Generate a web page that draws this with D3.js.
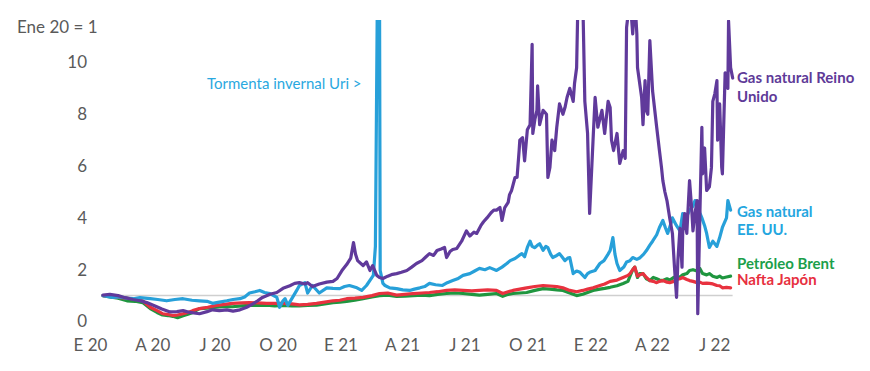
<!DOCTYPE html>
<html>
<head>
<meta charset="utf-8">
<script src="https://cdn.jsdelivr.net/npm/d3@7"></script>
<style>
  html, body { margin: 0; padding: 0; background: #fff; }
  svg { display: block; font-family: Lato, "Open Sans", sans-serif; }
</style>
</head>
<body>
<svg id="chart" width="870" height="371"></svg>
<script>
// ---------- DATA ----------
const xTickDates  = ["2020-01-01","2020-04-01","2020-07-01","2020-10-01","2021-01-01","2021-04-01","2021-07-01","2021-10-01","2022-01-01","2022-04-01","2022-07-01"];
const xTickLabels = ["E 20","A 20","J 20","O 20","E 21","A 21","J 21","O 21","E 22","A 22","J 22"];
const yTicks = [0, 2, 4, 6, 8, 10];

const ukGasDates = ["2020-01-20","2020-01-30","2020-02-11","2020-02-21","2020-03-04","2020-03-14","2020-03-24","2020-04-05","2020-04-15","2020-04-27","2020-05-07","2020-05-16","2020-05-26","2020-06-09","2020-06-20","2020-06-28","2020-07-08","2020-07-19","2020-07-28","2020-08-07","2020-08-17","2020-08-26","2020-09-02","2020-09-09","2020-09-20","2020-09-30","2020-10-09","2020-10-19","2020-10-26","2020-11-02","2020-11-10","2020-11-14","2020-11-21","2020-12-01","2020-12-12","2020-12-21","2020-12-27","2021-01-04","2021-01-10","2021-01-16","2021-01-20","2021-01-23","2021-01-26","2021-02-03","2021-02-08","2021-02-13","2021-02-17","2021-02-23","2021-02-27","2021-03-04","2021-03-11","2021-03-18","2021-03-24","2021-03-31","2021-04-08","2021-04-15","2021-04-22","2021-04-30","2021-05-06","2021-05-11","2021-05-17","2021-05-22","2021-05-28","2021-06-02","2021-06-05","2021-06-10","2021-06-14","2021-06-20","2021-06-27","2021-07-04","2021-07-09","2021-07-15","2021-07-19","2021-07-25","2021-07-29","2021-08-03","2021-08-09","2021-08-13","2021-08-17","2021-08-22","2021-08-25","2021-08-29","2021-09-03","2021-09-05","2021-09-08","2021-09-13","2021-09-16","2021-09-19","2021-09-20","2021-09-24","2021-09-27","2021-10-01","2021-10-05","2021-10-08","2021-10-09","2021-10-12","2021-10-15","2021-10-16","2021-10-19","2021-10-24","2021-10-29","2021-10-31","2021-11-03","2021-11-06","2021-11-10","2021-11-13","2021-11-17","2021-11-22","2021-11-25","2021-11-28","2021-12-02","2021-12-07","2021-12-09","2021-12-12","2021-12-14","2021-12-21","2021-12-24","2021-12-28","2021-12-31","2022-01-05","2022-01-08","2022-01-12","2022-01-18","2022-01-22","2022-01-27","2022-01-30","2022-02-01","2022-02-04","2022-02-09","2022-02-13","2022-02-18","2022-02-21","2022-02-23","2022-02-28","2022-03-04","2022-03-07","2022-03-10","2022-03-11","2022-03-17","2022-03-19","2022-03-22","2022-03-24","2022-03-26","2022-03-29","2022-04-02","2022-04-08","2022-04-12","2022-04-15","2022-04-17","2022-04-20","2022-04-23","2022-04-27","2022-05-01","2022-05-04","2022-05-07","2022-05-09","2022-05-12","2022-05-15","2022-05-16","2022-05-19","2022-05-22","2022-05-26","2022-05-29","2022-05-31","2022-06-03","2022-06-06","2022-06-07","2022-06-10","2022-06-13","2022-06-14","2022-06-17","2022-06-20","2022-06-24","2022-06-27","2022-06-29","2022-07-02","2022-07-05","2022-07-06","2022-07-09","2022-07-12","2022-07-13","2022-07-17","2022-07-19","2022-07-21","2022-07-22","2022-07-25","2022-07-28"];
const ukGasValues = [1.02,1.05,1.0,0.92,0.85,0.8,0.73,0.6,0.48,0.37,0.38,0.42,0.35,0.3,0.38,0.45,0.42,0.45,0.4,0.45,0.55,0.68,0.8,0.93,1.05,1.12,1.28,1.38,1.47,1.5,1.45,1.5,1.35,1.45,1.52,1.55,1.66,2.0,2.2,2.45,3.05,2.6,2.35,2.16,2.3,1.97,2.16,1.78,1.7,1.66,1.75,1.82,1.85,1.9,1.97,2.1,2.24,2.35,2.5,2.62,2.55,2.74,2.8,2.86,2.47,2.7,2.78,2.82,3.1,3.5,3.3,3.45,3.4,3.7,3.85,4.0,4.2,4.3,4.3,4.4,3.9,4.4,4.6,4.9,5.06,5.56,5.56,6.6,7.0,7.1,6.2,7.4,7.6,10.7,7.26,7.8,8.15,9.1,7.6,8.15,8.0,5.56,5.95,7.0,6.6,7.5,8.4,8.0,8.26,8.65,9.0,8.5,9.2,9.8,12.5,12.5,8.5,7.26,4.17,7.0,8.65,7.5,8.15,7.26,8.5,8.26,7.0,6.6,7.26,6.1,6.6,6.3,11.35,12.5,11.1,12.5,11.1,9.8,8.65,7.6,9.3,8.15,8.0,10.85,8.9,7.5,6.6,5.95,5.44,5.0,4.67,4.0,3.4,2.1,0.93,2.36,3.6,2.1,3.4,4.17,3.4,5.44,4.4,3.5,4.17,4.67,0.3,4.0,7.5,5.7,6.7,5.06,5.2,5.95,8.5,8.8,9.3,7.0,8.4,5.95,5.7,9.6,9.3,9.0,11.6,9.8,9.4];

const usGasDates = ["2020-01-20","2020-02-03","2020-02-13","2020-02-24","2020-03-04","2020-03-14","2020-03-29","2020-04-09","2020-04-22","2020-05-04","2020-05-16","2020-05-29","2020-06-09","2020-06-20","2020-06-28","2020-07-08","2020-07-19","2020-07-28","2020-08-07","2020-08-14","2020-08-21","2020-08-29","2020-09-05","2020-09-12","2020-09-20","2020-09-30","2020-10-04","2020-10-09","2020-10-12","2020-10-16","2020-10-23","2020-10-29","2020-11-02","2020-11-10","2020-11-14","2020-11-21","2020-12-01","2020-12-12","2020-12-21","2020-12-31","2021-01-07","2021-01-14","2021-01-25","2021-02-01","2021-02-08","2021-02-16","2021-02-18","2021-02-21","2021-02-24","2021-02-27","2021-02-28","2021-03-04","2021-03-07","2021-03-14","2021-03-24","2021-04-02","2021-04-12","2021-04-19","2021-04-27","2021-05-04","2021-05-11","2021-05-20","2021-05-30","2021-06-06","2021-06-14","2021-06-21","2021-06-29","2021-07-09","2021-07-16","2021-07-23","2021-07-31","2021-08-07","2021-08-17","2021-08-25","2021-09-01","2021-09-06","2021-09-13","2021-09-19","2021-09-23","2021-09-27","2021-10-01","2021-10-05","2021-10-08","2021-10-12","2021-10-16","2021-10-19","2021-10-24","2021-10-28","2021-10-31","2021-11-04","2021-11-07","2021-11-13","2021-11-17","2021-11-22","2021-11-25","2021-11-29","2021-12-02","2021-12-07","2021-12-12","2021-12-17","2021-12-24","2021-12-28","2021-12-31","2022-01-08","2022-01-15","2022-01-21","2022-01-27","2022-01-30","2022-02-03","2022-02-06","2022-02-09","2022-02-13","2022-02-19","2022-02-23","2022-02-28","2022-03-04","2022-03-10","2022-03-14","2022-03-20","2022-03-24","2022-03-29","2022-04-02","2022-04-08","2022-04-12","2022-04-17","2022-04-21","2022-04-24","2022-04-29","2022-05-01","2022-05-07","2022-05-12","2022-05-16","2022-05-21","2022-05-26","2022-05-31","2022-06-03","2022-06-07","2022-06-10","2022-06-13","2022-06-17","2022-06-20","2022-06-24","2022-06-29","2022-07-05","2022-07-09","2022-07-13","2022-07-19","2022-07-21","2022-07-25"];
const usGasValues = [1.0,0.93,0.95,0.9,0.88,0.92,0.88,0.85,0.8,0.85,0.88,0.82,0.8,0.78,0.7,0.75,0.8,0.85,0.88,0.95,1.1,1.15,1.2,1.12,1.08,0.93,0.55,0.8,0.88,0.62,0.93,1.2,1.39,1.5,1.1,1.39,1.1,1.3,1.28,1.27,1.35,1.39,1.3,1.2,1.39,1.7,1.78,2.9,13,13,1.97,1.47,1.39,1.3,1.27,1.22,1.2,1.25,1.3,1.35,1.47,1.42,1.39,1.5,1.58,1.65,1.78,1.85,1.95,2.05,2.0,2.08,1.97,2.1,2.24,2.35,2.43,2.55,2.62,2.5,2.86,3.1,2.9,2.85,2.95,3.0,2.75,2.9,2.85,2.6,2.47,2.55,2.62,2.45,2.35,2.45,2.47,1.85,1.95,1.9,1.7,1.85,1.9,1.97,2.24,2.35,2.6,2.74,3.24,2.6,2.24,1.97,2.1,2.3,2.35,2.47,2.4,2.45,2.6,2.74,2.95,3.1,3.35,3.63,3.9,3.6,3.4,3.8,4.0,3.7,3.5,4.17,4.0,4.3,4.45,4.67,4.5,4.2,4.0,3.7,3.4,2.86,3.1,2.9,3.24,3.63,4.0,4.67,4.3];

const oilDates = ["2020-01-20","2020-01-30","2020-02-11","2020-02-24","2020-03-07","2020-03-18","2020-03-29","2020-04-08","2020-04-16","2020-04-24","2020-05-01","2020-05-08","2020-05-16","2020-05-23","2020-05-30","2020-06-09","2020-06-21","2020-07-04","2020-07-16","2020-07-27","2020-08-10","2020-08-21","2020-09-02","2020-09-15","2020-09-27","2020-10-09","2020-10-22","2020-11-02","2020-11-14","2020-11-27","2020-12-09","2020-12-21","2020-12-31","2021-01-10","2021-01-22","2021-02-03","2021-02-16","2021-02-27","2021-03-11","2021-03-24","2021-04-05","2021-04-17","2021-04-30","2021-05-11","2021-05-23","2021-06-05","2021-06-17","2021-06-29","2021-07-12","2021-07-23","2021-08-04","2021-08-17","2021-08-26","2021-09-03","2021-09-10","2021-09-20","2021-09-30","2021-10-12","2021-10-24","2021-11-03","2021-11-13","2021-11-22","2021-12-02","2021-12-12","2021-12-21","2021-12-28","2022-01-05","2022-01-15","2022-01-22","2022-01-30","2022-02-09","2022-02-18","2022-02-25","2022-02-28","2022-03-04","2022-03-07","2022-03-11","2022-03-14","2022-03-19","2022-03-24","2022-03-29","2022-04-03","2022-04-08","2022-04-12","2022-04-17","2022-04-23","2022-04-27","2022-05-03","2022-05-07","2022-05-12","2022-05-16","2022-05-22","2022-05-26","2022-05-31","2022-06-06","2022-06-10","2022-06-14","2022-06-20","2022-06-24","2022-06-29","2022-07-05","2022-07-09","2022-07-13","2022-07-19","2022-07-25"];
const brentValues = [1.0,0.95,0.9,0.8,0.78,0.73,0.5,0.35,0.25,0.23,0.2,0.15,0.22,0.28,0.35,0.5,0.52,0.55,0.58,0.57,0.6,0.62,0.62,0.63,0.6,0.62,0.6,0.6,0.62,0.63,0.68,0.73,0.75,0.78,0.82,0.88,0.95,1.0,1.02,0.97,0.98,1.0,1.02,1.0,1.05,1.08,1.1,1.08,1.05,1.02,1.05,1.08,0.97,1.05,1.08,1.1,1.12,1.2,1.27,1.25,1.22,1.2,1.1,1.0,1.05,1.12,1.2,1.25,1.28,1.32,1.38,1.47,1.55,1.75,2.0,2.1,1.7,1.85,1.85,1.65,1.58,1.7,1.65,1.6,1.58,1.65,1.6,1.7,1.65,1.72,1.8,1.85,1.97,2.0,1.95,2.05,1.85,1.8,1.85,1.75,1.7,1.75,1.68,1.72,1.75];
const naftaValues = [1.0,0.97,0.93,0.9,0.86,0.8,0.55,0.42,0.3,0.27,0.23,0.25,0.3,0.35,0.42,0.5,0.55,0.62,0.66,0.7,0.72,0.73,0.72,0.7,0.7,0.7,0.68,0.64,0.66,0.7,0.75,0.8,0.82,0.88,0.9,0.93,1.0,1.08,1.1,1.02,1.05,1.08,1.1,1.12,1.15,1.2,1.22,1.2,1.18,1.2,1.22,1.2,1.08,1.15,1.2,1.25,1.3,1.35,1.39,1.37,1.35,1.3,1.2,1.15,1.2,1.25,1.3,1.39,1.45,1.55,1.6,1.7,1.78,1.85,2.0,2.1,1.75,1.8,1.85,1.7,1.58,1.55,1.5,1.55,1.58,1.52,1.5,1.55,1.62,1.65,1.7,1.62,1.58,1.55,1.5,1.52,1.47,1.48,1.47,1.45,1.39,1.38,1.3,1.32,1.3];

const seriesNames = ["Gas natural Reino Unido", "Gas natural EE. UU.", "Petróleo Brent", "Nafta Japón"];

// ---------- CHART ----------
const parse = d3.utcParse("%Y-%m-%d");
const svg = d3.select("#chart");

const x = d3.scaleUtc()
  .domain([parse("2020-01-01"), parse("2022-08-01")])
  .range([90, 735.4]);
const y = d3.scaleLinear().domain([0, 10]).range([321.5, 62.5]);

const colors = {
  uk: "#603a9b",
  us: "#27a0d9",
  brent: "#1f963f",
  nafta: "#e8323f"
};

svg.append("defs").append("clipPath").attr("id", "plotclip")
  .append("rect").attr("x", 80).attr("y", 20).attr("width", 700).attr("height", 330);

// Y axis
const yAxis = svg.append("g")
  .attr("transform", "translate(87,0)")
  .call(d3.axisLeft(y).tickValues(yTicks).tickSize(0).tickPadding(0).tickFormat(d3.format("d")));
yAxis.select(".domain").remove();
yAxis.selectAll("text").attr("font-size", 17).attr("fill", "#5a5a5a").attr("font-family", "Lato, sans-serif");

// X axis
const xAxis = svg.append("g")
  .attr("transform", "translate(0,333)")
  .call(d3.axisBottom(x).tickValues(xTickDates.map(parse)).tickSize(0).tickPadding(6)
    .tickFormat((d, i) => xTickLabels[i]));
xAxis.select(".domain").remove();
xAxis.selectAll("text").attr("font-size", 17).attr("fill", "#5a5a5a").attr("font-family", "Lato, sans-serif");

// axis title
svg.append("text").attr("x", 17).attr("y", 33)
  .attr("font-size", 17).attr("fill", "#5a5a5a").text("Ene 20 = 1");

// reference line at 1
svg.append("line")
  .attr("x1", x(parse(oilDates[0]))).attr("x2", x(parse(oilDates[oilDates.length - 1])) + 2)
  .attr("y1", y(1)).attr("y2", y(1))
  .attr("stroke", "#cfcfcf").attr("stroke-width", 1.5);

const line = d3.line().x(d => x(d[0])).y(d => y(d[1]));
const zipS = (dates, vals) => dates.map((d, i) => [parse(d), vals[i]]);

const plot = svg.append("g").attr("clip-path", "url(#plotclip)");
const seriesList = [
  { data: zipS(oilDates, brentValues), color: colors.brent },
  { data: zipS(oilDates, naftaValues), color: colors.nafta },
  { data: zipS(usGasDates, usGasValues), color: colors.us },
  { data: zipS(ukGasDates, ukGasValues), color: colors.uk }
];
seriesList.forEach(s => {
  plot.append("path").datum(s.data)
    .attr("d", line)
    .attr("fill", "none")
    .attr("stroke", s.color)
    .attr("stroke-width", 3.2)
    .attr("stroke-linejoin", "round")
    .attr("stroke-linecap", "round");
});

// series labels
const lab = (txt, yy, col) => svg.append("text").attr("x", 737).attr("y", yy)
  .attr("font-size", 15).attr("font-weight", 700).attr("fill", col).text(txt);
lab("Gas natural Reino", 83, "#5e3a98");
lab("Unido", 101.5, "#5e3a98");
lab("Gas natural", 216.5, "#25a6df");
lab("EE. UU.", 235, "#25a6df");
lab("Petróleo Brent", 268.5, "#1c9f4b");
lab("Nafta Japón", 285, "#e7303f");

// annotation
svg.append("text").attr("x", 207).attr("y", 88.5)
  .attr("font-size", 15).attr("fill", "#29a8e0").text("Tormenta invernal Uri >");
</script>
</body>
</html>
